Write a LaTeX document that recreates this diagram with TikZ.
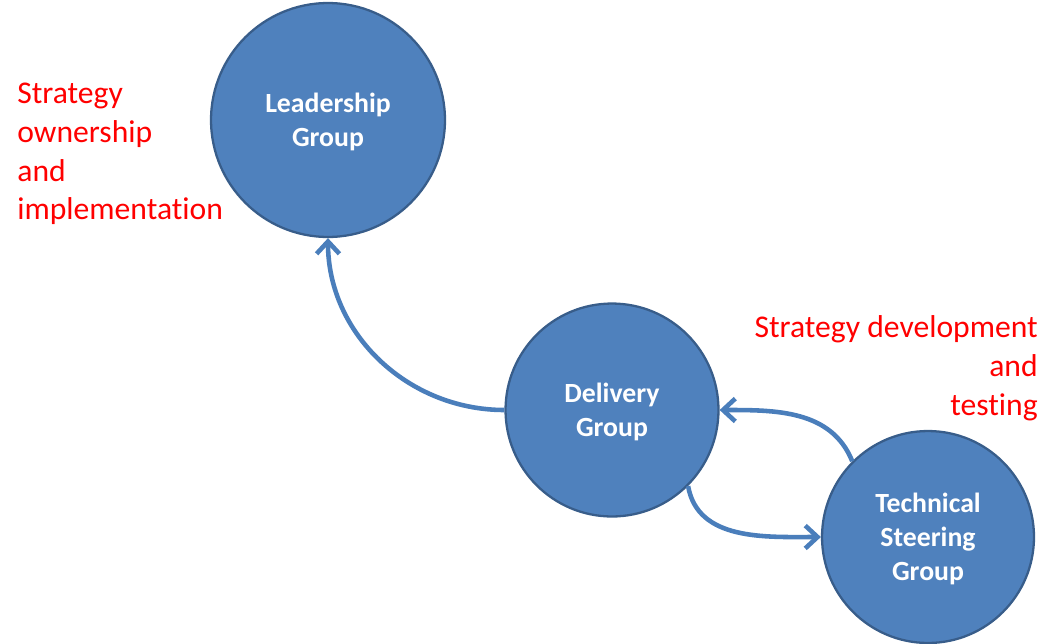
\documentclass[tikz,border=0pt]{standalone}
\usepackage{fontspec}
\setmainfont{Carlito}[Ligatures=CommonOff]
\usetikzlibrary{arrows.meta}

\definecolor{groupfill}{HTML}{4F81BD}
\definecolor{groupline}{HTML}{385D8A}
\definecolor{linkline}{HTML}{4A7EBB}

\begin{document}
\begin{tikzpicture}[x=0.02cm, y=-0.02cm,
  group/.style={circle, fill=groupfill, draw=groupline, line width=1.3pt,
    text=white, font=\fontsize{15.8}{19.3}\selectfont\bfseries, align=center,
    text depth=0pt},
  link/.style={draw=linkline, line width=2.6pt,
    -{Straight Barb[length=7pt,width=13pt]}},
  note/.style={text=red, font=\fontsize{18}{22.1}\selectfont, inner sep=0pt}]
\useasboundingbox (0,0) rectangle (1054,643);
% Groups
\node[group, minimum size=4.68cm] (leader) at (328,120) {Leadership\\Group};
\node[group, minimum size=4.26cm] (delivery) at (612,410) {Delivery\\Group};
\node[group, minimum size=4.24cm] (tech) at (928,537) {Technical\\Steering\\Group};
% Links
\draw[link] (delivery.west) to[out=180, in=-90] (leader.south);
\draw[link] (tech.135) to[out=112, in=0] (delivery.east);
\draw[link] (delivery.-45) to[out=-80, in=180] (tech.west);
% Notes
\node[note, anchor=west, align=left] (own) at (17,154) {Strategy\\ownership\\and\\implementation};
\node[note, anchor=east, align=right] (dev) at (1038,368) {Strategy development\\and\\testing};
\end{tikzpicture}
\end{document}
